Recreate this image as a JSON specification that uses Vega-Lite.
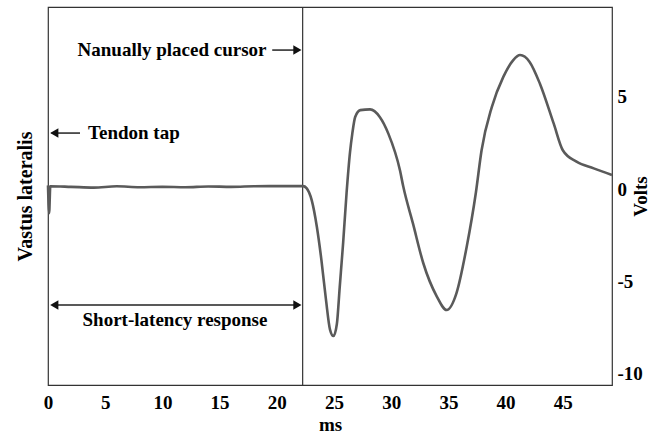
{
  "$schema": "https://vega.github.io/schema/vega-lite/v6.json",
  "width": 564,
  "height": 378,
  "autosize": {"type": "none"},
  "padding": {"left": 48, "top": 7, "right": 58, "bottom": 53},
  "background": "white",
  "config": {
    "view": {"stroke": "#333", "strokeWidth": 1.2},
    "font": "Liberation Serif",
    "axis": {"labelFont": "Liberation Serif", "titleFont": "Liberation Serif", "labelFontWeight": "bold", "titleFontWeight": "bold", "labelFontSize": 19, "titleFontSize": 19, "labelColor": "#000", "titleColor": "#000", "grid": false, "ticks": false, "domain": false}
  },
  "datasets": {
    "trace": [
      {"t": 0.0, "v": 0.2}, {"t": 0.1, "v": -1.3}, {"t": 0.2, "v": 0.15},
      {"t": 2, "v": 0.12}, {"t": 4, "v": 0.08}, {"t": 6, "v": 0.15}, {"t": 8, "v": 0.1},
      {"t": 10, "v": 0.12}, {"t": 12, "v": 0.1}, {"t": 14, "v": 0.14}, {"t": 16, "v": 0.12},
      {"t": 18, "v": 0.15}, {"t": 20, "v": 0.16}, {"t": 22.3, "v": 0.16},
      {"t": 22.6, "v": 0.05}, {"t": 23.05, "v": -0.6}, {"t": 23.5, "v": -2.04},
      {"t": 23.9, "v": -3.84}, {"t": 24.3, "v": -6.0}, {"t": 24.65, "v": -7.6},
      {"t": 24.95, "v": -7.95}, {"t": 25.25, "v": -7.3}, {"t": 25.5, "v": -5.3}, {"t": 25.8, "v": -2.9},
      {"t": 26.1, "v": -0.2}, {"t": 26.4, "v": 2.0}, {"t": 26.6, "v": 3.0},
      {"t": 26.85, "v": 3.9}, {"t": 27.3, "v": 4.27}, {"t": 28.15, "v": 4.31},
      {"t": 29.0, "v": 3.9}, {"t": 29.75, "v": 3.0}, {"t": 30.77, "v": 1.0},
      {"t": 31.06, "v": 0.12}, {"t": 31.9, "v": -1.86}, {"t": 32.8, "v": -4.0},
      {"t": 33.98, "v": -5.8}, {"t": 34.85, "v": -6.54}, {"t": 35.7, "v": -5.64},
      {"t": 36.6, "v": -3.12}, {"t": 37.4, "v": -0.2}, {"t": 37.9, "v": 2.1},
      {"t": 38.8, "v": 4.45}, {"t": 39.8, "v": 6.07}, {"t": 40.67, "v": 6.98},
      {"t": 41.26, "v": 7.25}, {"t": 42.1, "v": 6.88}, {"t": 43.0, "v": 5.7},
      {"t": 44.2, "v": 3.55}, {"t": 45.0, "v": 2.1}, {"t": 46.2, "v": 1.48},
      {"t": 47.7, "v": 1.12}, {"t": 49.3, "v": 0.76}
    ],
    "arrows": [
      {"t": 0.3, "t2": 2.8, "v": 3.03},
      {"t": 19.6, "t2": 21.5, "v": 7.52},
      {"t": 0.5, "t2": 21.6, "v": -6.27}
    ],
    "heads": [
      {"t": 0.55, "v": 3.03, "dir": "triangle-left"},
      {"t": 21.8, "v": 7.52, "dir": "triangle-right"},
      {"t": 0.55, "v": -6.27, "dir": "triangle-left"},
      {"t": 21.8, "v": -6.27, "dir": "triangle-right"}
    ],
    "labels": [
      {"t": 3.5, "v": 3.03, "label": "Tendon tap", "pos": "left"},
      {"t": 19.1, "v": 7.52, "label": "Nanually placed cursor", "pos": "right"},
      {"t": 11.1, "v": -7.1, "label": "Short-latency response", "pos": "center"}
    ]
  },
  "layer": [
    {
      "data": {"values": [{"t": 22.26}]},
      "mark": {"type": "rule", "color": "#333", "strokeWidth": 1.2},
      "encoding": {
        "x": {"field": "t", "type": "quantitative", "scale": {"domain": [0, 49.3], "nice": false, "zero": false}}
      }
    },
    {
      "data": {"name": "trace"},
      "mark": {"type": "line", "color": "#5a5a5a", "strokeWidth": 2.6, "interpolate": "monotone"},
      "encoding": {
        "x": {"field": "t", "type": "quantitative", "scale": {"domain": [0, 49.3], "nice": false, "zero": false},
              "axis": {"orient": "bottom", "values": [0, 5, 10, 15, 20, 25, 30, 35, 40, 45], "title": "ms", "labelPadding": 8, "titlePadding": 3, "labelFlush": false}},
        "y": {"field": "v", "type": "quantitative", "scale": {"domain": [-10.6, 9.85], "nice": false, "zero": false},
              "axis": {"orient": "right", "values": [-10, -5, 0, 5], "labelExpr": "'' + datum.value", "title": "Volts", "titleAngle": 270, "labelPadding": 5, "titlePadding": 8, "labelFlush": false}}
      }
    },
    {
      "data": {"name": "arrows"},
      "mark": {"type": "rule", "color": "#222", "strokeWidth": 1.5},
      "encoding": {
        "x": {"field": "t", "type": "quantitative"},
        "x2": {"field": "t2"},
        "y": {"field": "v", "type": "quantitative", "axis": {"orient": "left", "labels": false, "title": "Vastus lateralis", "titleFontSize": 20, "titlePadding": 13}}
      }
    },
    {
      "data": {"name": "heads"},
      "mark": {"type": "point", "filled": true, "color": "#111", "size": 90, "opacity": 1},
      "encoding": {
        "x": {"field": "t", "type": "quantitative"},
        "y": {"field": "v", "type": "quantitative", "axis": null},
        "shape": {"field": "dir", "type": "nominal", "scale": null, "legend": null}
      }
    },
    {
      "data": {"name": "labels"},
      "transform": [{"filter": "datum.pos == 'left'"}],
      "mark": {"type": "text", "font": "Liberation Serif", "fontWeight": "bold", "fontSize": 19, "color": "#000", "baseline": "middle", "align": "left"},
      "encoding": {
        "x": {"field": "t", "type": "quantitative"},
        "y": {"field": "v", "type": "quantitative", "axis": null},
        "text": {"field": "label"}
      }
    },
    {
      "data": {"name": "labels"},
      "transform": [{"filter": "datum.pos == 'right'"}],
      "mark": {"type": "text", "font": "Liberation Serif", "fontWeight": "bold", "fontSize": 19, "color": "#000", "baseline": "middle", "align": "right"},
      "encoding": {
        "x": {"field": "t", "type": "quantitative"},
        "y": {"field": "v", "type": "quantitative", "axis": null},
        "text": {"field": "label"}
      }
    },
    {
      "data": {"name": "labels"},
      "transform": [{"filter": "datum.pos == 'center'"}],
      "mark": {"type": "text", "font": "Liberation Serif", "fontWeight": "bold", "fontSize": 19, "color": "#000", "baseline": "middle", "align": "center"},
      "encoding": {
        "x": {"field": "t", "type": "quantitative"},
        "y": {"field": "v", "type": "quantitative", "axis": null},
        "text": {"field": "label"}
      }
    }
  ],
  "resolve": {"axis": {"y": "independent"}}
}
